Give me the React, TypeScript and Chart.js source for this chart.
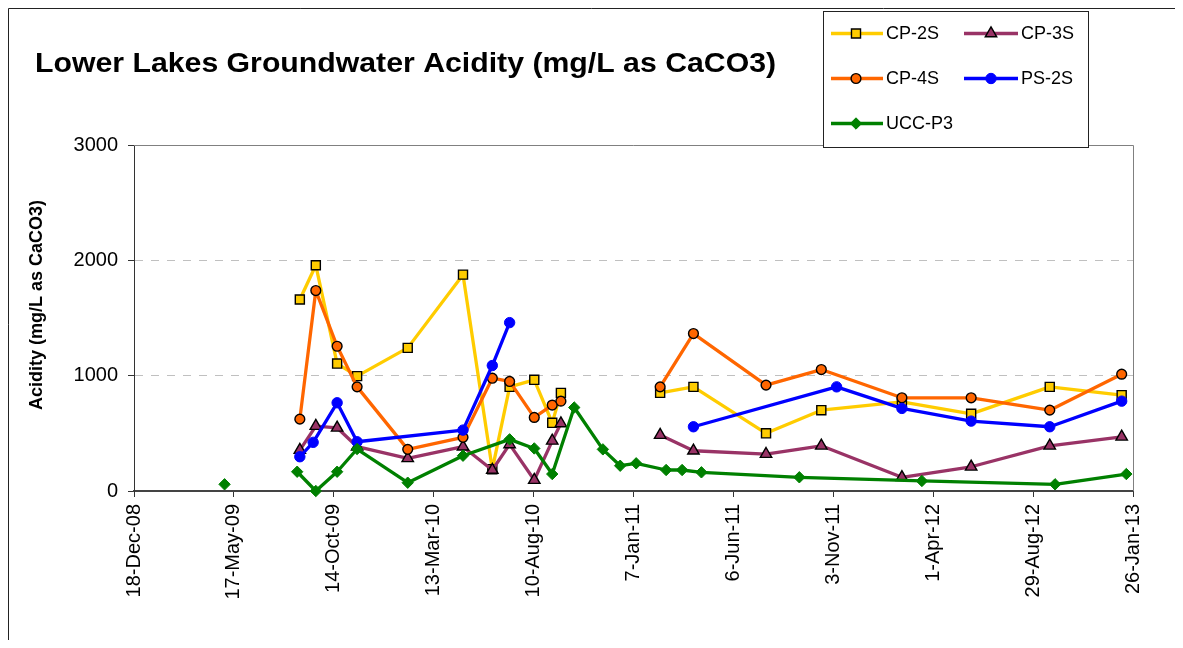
import React, { useEffect, useRef } from "react";
import { Chart, registerables } from "chart.js";

Chart.register(...registerables);

const FONT = '"Liberation Sans", Arial, Helvetica, sans-serif';
const W = 1167;
const H = 632;

// ---------- data ----------
const chartTitle = "Lower Lakes Groundwater Acidity (mg/L as CaCO3)";
const yAxisTitle = "Acidity (mg/L as CaCO3)";

const xTickDates = [
  "2008-12-18", "2009-05-17", "2009-10-14", "2010-03-13", "2010-08-10", "2011-01-07",
  "2011-06-06", "2011-11-03", "2012-04-01", "2012-08-29", "2013-01-26",
];
const xTickLabels = [
  "18-Dec-08", "17-May-09", "14-Oct-09", "13-Mar-10", "10-Aug-10", "7-Jan-11",
  "6-Jun-11", "3-Nov-11", "1-Apr-12", "29-Aug-12", "26-Jan-13",
];
const yTickValues = [0, 1000, 2000, 3000];

const seriesNames = ["CP-2S", "CP-3S", "CP-4S", "PS-2S", "UCC-P3"];

const cpDates = [
  "2009-08-24", "2009-09-17", "2009-10-19", "2009-11-18", "2010-02-02", "2010-04-26",
  "2010-06-09", "2010-07-05", "2010-08-11", "2010-09-07", "2010-09-20", "2010-10-10",
  "2011-02-16", "2011-04-07", "2011-07-25", "2011-10-16", "2012-02-14", "2012-05-28",
  "2012-09-23", "2013-01-09",
];
const cp2sValues = [1660, 1957, 1105, 996, 1241, 1876, 188, 903, 964, 591, 851, null, 851, 903, 500, 701, 773, 669, 903, 831];
const cp3sValues = [355, 563, 548, 384, 283, 384, 182, 404, 95, 435, 586, null, 485, 349, 320, 392, 119, 210, 392, 470];
const cp4sValues = [623, 1738, 1255, 903, 361, 465, 978, 950, 638, 745, 779, null, 903, 1365, 918, 1053, 808, 808, 701, 1013];

const ps2sDates = [
  "2009-08-24", "2009-09-13", "2009-10-19", "2009-11-18", "2010-04-26", "2010-06-09",
  "2010-07-05", "2010-10-10", "2011-04-07", "2011-11-08", "2012-02-14", "2012-05-28",
  "2012-09-23", "2013-01-09",
];
const ps2sValues = [297, 422, 765, 427, 528, 1088, 1460, null, 557, 903, 716, 606, 557, 779];

const uccDates = [
  "2009-05-03", "2009-06-30", "2009-08-20", "2009-09-17", "2009-10-19", "2009-11-18",
  "2010-02-02", "2010-04-26", "2010-07-05", "2010-08-11", "2010-09-07", "2010-10-10",
  "2010-11-22", "2010-12-18", "2011-01-11", "2011-02-25", "2011-03-21", "2011-04-19",
  "2011-09-13", "2012-03-15", "2012-10-01", "2013-01-16",
];
const uccValues = [58, null, 167, 0, 167, 364, 72, 306, 448, 369, 147, 724, 361, 219, 240, 182, 182, 162, 119, 87, 58, 147];

// ---------- helpers ----------
const DAY = 86400000;
const toDay = (s: string) => {
  const [y, m, d] = s.split("-").map(Number);
  return Date.UTC(y, m - 1, d) / DAY;
};
const xTickVals = xTickDates.map(toDay);
const pts = (dates: string[], vals: (number | null)[]) =>
  dates.map((d, i) => ({ x: toDay(d), y: vals[i] }));

type Style = {
  line: string;
  fill: string;
  stroke: string;
  shape: string;
  radius: number;
  bw: number;
};
const styles: Style[] = [
  { line: "#FFCC00", fill: "#FFCC00", stroke: "#000000", shape: "rect", radius: 6.4, bw: 1.4 },
  { line: "#993366", fill: "#993366", stroke: "#000000", shape: "triangle", radius: 6.6, bw: 1.4 },
  { line: "#FF6600", fill: "#FF6600", stroke: "#000000", shape: "circle", radius: 4.9, bw: 1.4 },
  { line: "#0000FF", fill: "#0000FF", stroke: "#0000FF", shape: "circle", radius: 5.2, bw: 1 },
  { line: "#008000", fill: "#008000", stroke: "#008000", shape: "rectRot", radius: 5.7, bw: 1 },
];
const seriesData = [
  pts(cpDates, cp2sValues),
  pts(cpDates, cp3sValues),
  pts(cpDates, cp4sValues),
  pts(ps2sDates, ps2sValues),
  pts(uccDates, uccValues),
];

function drawMarker(ctx: CanvasRenderingContext2D, st: Style, x: number, y: number) {
  const r = st.radius;
  ctx.save();
  ctx.beginPath();
  if (st.shape === "circle") {
    ctx.arc(x, y, r, 0, Math.PI * 2);
  } else if (st.shape === "rect") {
    const s = Math.SQRT1_2 * r;
    ctx.rect(x - s, y - s, 2 * s, 2 * s);
  } else if (st.shape === "triangle") {
    let a = 0;
    ctx.moveTo(x + Math.sin(a) * r, y - Math.cos(a) * r);
    a += (2 * Math.PI) / 3;
    ctx.lineTo(x + Math.sin(a) * r, y - Math.cos(a) * r);
    a += (2 * Math.PI) / 3;
    ctx.lineTo(x + Math.sin(a) * r, y - Math.cos(a) * r);
  } else {
    ctx.moveTo(x - r, y);
    ctx.lineTo(x, y - r);
    ctx.lineTo(x + r, y);
    ctx.lineTo(x, y + r);
  }
  ctx.closePath();
  ctx.fillStyle = st.fill;
  ctx.fill();
  ctx.lineWidth = st.bw;
  ctx.strokeStyle = st.stroke;
  ctx.stroke();
  ctx.restore();
}

const decorPlugin = {
  id: "decor",
  beforeDatasetsDraw(chart: any) {
    const { ctx, chartArea: a } = chart;
    ctx.save();
    ctx.strokeStyle = "#808080";
    ctx.lineWidth = 1;
    ctx.beginPath();
    ctx.moveTo(a.left, Math.round(a.top) + 0.5);
    ctx.lineTo(Math.round(a.right) + 0.5, Math.round(a.top) + 0.5);
    ctx.lineTo(Math.round(a.right) + 0.5, a.bottom);
    ctx.stroke();
    ctx.restore();
  },
  afterDraw(chart: any) {
    const ctx: CanvasRenderingContext2D = chart.ctx;
    // outer frame (left and top edges visible)
    ctx.save();
    ctx.strokeStyle = "#222222";
    ctx.lineWidth = 1;
    ctx.beginPath();
    ctx.moveTo(0.5, H);
    ctx.lineTo(0.5, 0.5);
    ctx.lineTo(W, 0.5);
    ctx.stroke();
    ctx.restore();

    // chart title
    ctx.save();
    ctx.fillStyle = "#000";
    ctx.font = `bold 28px ${FONT}`;
    ctx.textBaseline = "alphabetic";
    ctx.textAlign = "left";
    ctx.translate(27, 64);
    ctx.scale(1.08, 1);
    ctx.fillText(chartTitle, 0, 0);
    ctx.restore();

    // y axis title
    ctx.save();
    ctx.fillStyle = "#000";
    ctx.font = `bold 18px ${FONT}`;
    ctx.textAlign = "center";
    ctx.textBaseline = "middle";
    ctx.translate(29, 297);
    ctx.rotate(-Math.PI / 2);
    ctx.fillText(yAxisTitle, 0, 0);
    ctx.restore();

    // legend
    ctx.save();
    ctx.fillStyle = "#fff";
    ctx.fillRect(815, 3, 266, 137);
    ctx.strokeStyle = "#222";
    ctx.lineWidth = 1;
    ctx.strokeRect(815.5, 3.5, 265, 136);
    const cols = [
      { l0: 823, l1: 875, mx: 848, tx: 878 },
      { l0: 956, l1: 1010, mx: 983, tx: 1013 },
    ];
    const rows = [25.5, 70.5, 115.5];
    ctx.font = `18px ${FONT}`;
    ctx.textBaseline = "middle";
    ctx.textAlign = "left";
    seriesNames.forEach((name, i) => {
      const c = cols[i % 2];
      const y = rows[Math.floor(i / 2)];
      const st = styles[i];
      ctx.strokeStyle = st.line;
      ctx.lineWidth = 3.3;
      ctx.beginPath();
      ctx.moveTo(c.l0, y);
      ctx.lineTo(c.l1, y);
      ctx.stroke();
      drawMarker(ctx, st, c.mx, y);
      ctx.fillStyle = "#000";
      ctx.fillText(name, c.tx, y + 1);
    });
    ctx.restore();
  },
};

export default function App() {
  const ref = useRef<HTMLCanvasElement>(null);
  useEffect(() => {
    if (!ref.current) return;
    Chart.defaults.font.family = FONT;
    const n = seriesNames.length;
    const chart = new Chart(ref.current, {
      type: "line",
      data: {
        datasets: seriesNames.map((name, i) => ({
          label: name,
          data: seriesData[i] as any,
          borderColor: styles[i].line,
          backgroundColor: styles[i].fill,
          borderWidth: 3.3,
          borderJoinStyle: "round",
          borderCapStyle: "round",
          tension: 0,
          spanGaps: false,
          pointStyle: styles[i].shape as any,
          pointRadius: styles[i].radius,
          pointBackgroundColor: styles[i].fill,
          pointBorderColor: styles[i].stroke,
          pointBorderWidth: styles[i].bw,
          order: n - 1 - i,
          clip: 12,
        })),
      },
      options: {
        animation: false,
        responsive: false,
        devicePixelRatio: 1,
        layout: { padding: { left: 0, top: 137, right: W - 1125, bottom: H - 483 - 120 } },
        plugins: {
          legend: { display: false },
          title: { display: false },
          tooltip: { enabled: false },
        },
        scales: {
          x: {
            type: "linear",
            min: xTickVals[0],
            max: xTickVals[xTickVals.length - 1],
            afterBuildTicks: (s: any) => {
              s.ticks = xTickVals.map((v) => ({ value: v }));
            },
            afterFit: (s: any) => {
              s.height = 120;
            },
            ticks: {
              autoSkip: false,
              minRotation: 90,
              maxRotation: 90,
              padding: 7,
              color: "#000",
              font: { size: 20, family: FONT },
              callback: (v: any) => {
                const i = xTickVals.indexOf(Number(v));
                return i >= 0 ? xTickLabels[i] : "";
              },
            },
            grid: {
              drawOnChartArea: false,
              drawTicks: true,
              tickLength: 6,
              tickColor: "#333",
              tickWidth: 1,
            },
            border: { display: true, color: "#444", width: 2 },
          },
          y: {
            type: "linear",
            min: 0,
            max: 3000,
            afterBuildTicks: (s: any) => {
              s.ticks = yTickValues.map((v) => ({ value: v }));
            },
            afterFit: (s: any) => {
              s.width = 126;
            },
            ticks: {
              padding: 10,
              color: "#000",
              font: { size: 20, family: FONT },
              callback: (v: any) => String(v),
            },
            grid: {
              color: (c: any) =>
                c.tick && (c.tick.value === 1000 || c.tick.value === 2000) ? "#c0c0c0" : "rgba(0,0,0,0)",
              lineWidth: 1,
              drawTicks: true,
              tickLength: 6,
              tickColor: "#333",
              tickWidth: 1,
            },
            border: { display: true, color: "#333", width: 1, dash: [8, 8] },
          },
        },
      },
      plugins: [decorPlugin],
    });
    return () => chart.destroy();
  }, []);
  return <canvas ref={ref} width={W} height={H} style={{ display: "block", width: W, height: H }} />;
}
